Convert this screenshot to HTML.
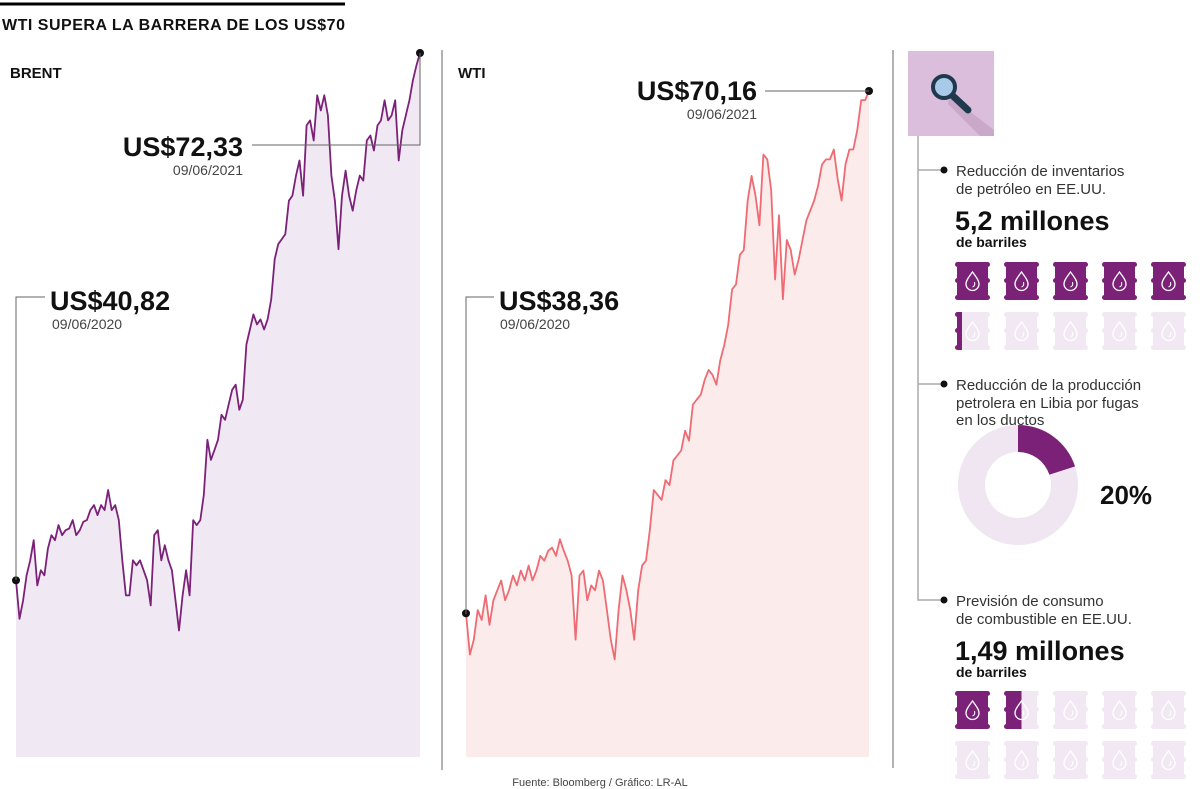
<!DOCTYPE html>
<html><head><meta charset="utf-8"><style>
body{margin:0;background:#fff;font-family:"Liberation Sans",sans-serif}
svg{display:block}
</style></head><body>
<svg id="chart" width="1200" height="789" viewBox="0 0 1200 789" xmlns="http://www.w3.org/2000/svg">
<defs>
<g id="barrel">
<rect x="0" y="0" width="35" height="5" rx="2.5"/>
<rect x="2" y="5" width="31" height="12"/>
<rect x="0" y="16" width="35" height="5" rx="2.5"/>
<rect x="2" y="21" width="31" height="12"/>
<rect x="0" y="33" width="35" height="5" rx="2.5"/>
<path d="M17.5 10 C13 16 11 19 11 22 A6.5 6.5 0 0 0 24 22 C24 19 22 16 17.5 10Z" fill="none" stroke="#fff" stroke-width="1.3"/>
<path d="M19.5 20 q1 4 -2 5" fill="none" stroke="#fff" stroke-width="1"/>
</g>
</defs>
<line x1="0" y1="4" x2="345" y2="4" stroke="#000" stroke-width="3"/>
<text x="2" y="30" font-size="16" font-weight="bold" fill="#111" textLength="343">WTI SUPERA LA BARRERA DE LOS US$70</text>
<text x="10" y="78" font-size="15" font-weight="bold" fill="#111">BRENT</text>
<text x="458" y="78" font-size="15" font-weight="bold" fill="#111">WTI</text>
<line x1="442" y1="50" x2="442" y2="770" stroke="#999" stroke-width="1.5"/>
<line x1="893" y1="50" x2="893" y2="768" stroke="#999" stroke-width="1.5"/>
<g id="brent"></g>
<g id="wti"></g>
<polyline points="16,580 16,297 45,297" fill="none" stroke="#666"/>
<text x="50" y="310" font-size="27" font-weight="bold" fill="#111">US$40,82</text>
<text x="52" y="329" font-size="14" fill="#444">09/06/2020</text>
<polyline points="252,145 420,145 420,53" fill="none" stroke="#666"/>
<text x="243" y="156" font-size="27" font-weight="bold" fill="#111" text-anchor="end">US$72,33</text>
<text x="243" y="175" font-size="14" fill="#444" text-anchor="end">09/06/2021</text>
<polyline points="466,614 466,297 494,297" fill="none" stroke="#666"/>
<text x="499" y="310" font-size="27" font-weight="bold" fill="#111">US$38,36</text>
<text x="500" y="329" font-size="14" fill="#444">09/06/2020</text>
<line x1="765" y1="91" x2="869" y2="91" stroke="#666"/>
<text x="757" y="100" font-size="27" font-weight="bold" fill="#111" text-anchor="end">US$70,16</text>
<text x="757" y="119" font-size="14" fill="#444" text-anchor="end">09/06/2021</text>
<g>
<rect x="908" y="51" width="86" height="85" fill="#dbbedb"/>
<polygon points="950,95 968,110 994,130 994,136 980,136 948,104" fill="#c9a8c9"/>
<line x1="953" y1="96" x2="968" y2="110" stroke="#1f3a4d" stroke-width="7" stroke-linecap="round"/>
<circle cx="944" cy="87" r="11" fill="#a9c9e8" stroke="#1f3a4d" stroke-width="4"/>
</g>
<polyline points="918,136 918,600 944,600" fill="none" stroke="#aaa" stroke-width="1.5"/>
<line x1="918" y1="170" x2="944" y2="170" stroke="#aaa" stroke-width="1.5"/>
<line x1="918" y1="384" x2="944" y2="384" stroke="#aaa" stroke-width="1.5"/>
<circle cx="944" cy="170" r="3.5" fill="#111"/>
<circle cx="944" cy="384" r="3.5" fill="#111"/>
<circle cx="944" cy="600" r="3.5" fill="#111"/>
<g font-size="15" fill="#333">
<text x="956" y="176">Reducción de inventarios</text>
<text x="956" y="194">de petróleo en EE.UU.</text>
<text x="956" y="390">Reducción de la producción</text>
<text x="956" y="408">petrolera en Libia por fugas</text>
<text x="956" y="425">en los ductos</text>
<text x="956" y="606">Previsión de consumo</text>
<text x="956" y="624">de combustible en EE.UU.</text>
</g>
<text x="955" y="230" font-size="27" font-weight="bold" fill="#111">5,2 millones</text>
<text x="956" y="247" font-size="14" font-weight="bold" fill="#111">de barriles</text>
<text x="955" y="660" font-size="27" font-weight="bold" fill="#111">1,49 millones</text>
<text x="956" y="677" font-size="14" font-weight="bold" fill="#111">de barriles</text>
<g id="barrels1"></g>
<g id="barrels2"></g>
<g id="donut"></g>
<text x="1100" y="504" font-size="26" font-weight="bold" fill="#111">20%</text>
<text x="600" y="786" font-size="11" fill="#444" text-anchor="middle">Fuente: Bloomberg / Gráfico: LR-AL</text>
</svg>
<script>
const brentValues=[40.8,38.5,39.6,41.1,42.0,43.2,40.5,41.4,41.1,42.7,43.5,43.2,44.1,43.5,43.8,43.9,44.4,43.5,43.8,44.3,44.4,45.0,45.3,44.7,45.3,45.0,46.2,45.0,45.3,44.4,42.0,39.9,39.9,42.0,41.7,42.0,41.4,40.8,39.3,43.5,43.8,42.0,42.9,42.0,41.4,39.6,37.8,39.9,41.4,39.9,44.4,44.1,44.4,45.9,49.2,48.0,48.6,49.2,50.7,50.4,51.3,52.2,52.5,51.0,51.6,54.9,55.8,56.7,56.1,56.4,55.8,56.4,57.6,60.0,60.9,61.2,61.5,63.5,63.8,65.0,65.9,63.8,68.0,68.3,67.1,69.8,68.9,69.8,68.6,65.0,63.5,60.6,63.8,65.3,63.8,62.9,64.1,65.0,64.7,67.1,67.4,66.5,68.0,68.3,69.5,68.3,68.6,69.5,65.9,67.7,68.6,69.5,70.7,71.6,72.33];
const wtiValues=[38.4,35.9,36.8,38.6,38.0,39.5,37.7,39.2,39.8,40.4,39.2,39.8,40.7,40.1,41.0,40.4,41.3,40.4,41.0,41.9,41.6,42.2,42.4,41.9,42.9,42.2,41.6,40.7,36.8,40.7,41.0,39.2,40.1,39.8,41.0,40.4,38.6,36.8,35.6,38.6,40.7,39.8,38.6,36.8,39.8,41.3,41.6,43.5,45.9,45.6,45.3,46.5,46.2,47.7,48.0,48.3,49.5,48.9,51.1,51.4,51.7,52.6,53.2,52.9,52.3,53.8,54.7,55.9,58.1,58.4,60.2,60.5,63.5,65.0,63.8,62.0,66.3,66.0,64.1,58.7,62.6,57.5,61.1,60.5,59.0,59.9,61.1,62.3,62.9,63.5,64.4,65.7,66.0,66.0,66.6,64.8,63.5,65.7,66.6,66.6,67.8,69.6,69.6,70.16];
const donutShare=[20,80];
const barrels1Fill=[1,1,1,1,1,0.2,0,0,0,0];
const barrels2Fill=[1,0.5,0,0,0,0,0,0,0,0];
const NS='http://www.w3.org/2000/svg';
function mk(t,a,p){const e=document.createElementNS(NS,t);for(const k in a)e.setAttribute(k,a[k]);p.appendChild(e);return e;}
function drawSeries(gid,vals,x0,x1,v0,y0,v1,y1,bottom,fill,stroke){
  const g=document.getElementById(gid);
  const sx=i=>x0+(x1-x0)*i/(vals.length-1);
  const sy=v=>y0+(v-v0)*(y1-y0)/(v1-v0);
  const pts=vals.map((v,i)=>sx(i).toFixed(1)+','+sy(v).toFixed(1));
  const area=mk('polygon',{points:x0+','+bottom+' '+pts.join(' ')+' '+x1+','+bottom,fill:fill},g);
  
  
  const line=mk('polyline',{points:pts.join(' '),fill:'none',stroke:stroke,'stroke-width':1.8,'stroke-linejoin':'round'},g);
  
  
  const s=mk('circle',{cx:x0,cy:sy(vals[0]),r:4,fill:'#111'},g);
  
  
  const e=mk('circle',{cx:x1,cy:sy(vals[vals.length-1]),r:4,fill:'#111'},g);
  
  
}
drawSeries('brent',brentValues,16,420,40.82,580,72.33,53,757,'#f0e8f3','#7b2278');
drawSeries('wti',wtiValues,466,869,38.36,614,70.16,91,757,'#fcebeb','#ee6b73');
function drawBarrels(gid,fills,x0,y0){
  const g=document.getElementById(gid);
  fills.forEach((f,i)=>{
    const x=x0+(i%5)*49,y=y0+Math.floor(i/5)*50;
    const bg=mk('use',{href:'#barrel',x:x,y:y,fill:'#f1e8f3'},g);
    
    
    if(f>0){
      const cg=mk('g',{transform:'translate('+x+','+y+')'},g);
      const cp=mk('clipPath',{id:gid+'c'+i},cg);
      mk('rect',{x:0,y:0,width:35*f,height:40},cp);
      const u=mk('use',{href:'#barrel',fill:'#7b2278','clip-path':'url(#'+gid+'c'+i+')'},cg);
      
      
    }
  });
}
drawBarrels('barrels1',barrels1Fill,955,262);
drawBarrels('barrels2',barrels2Fill,955,691);
(function(){
  const g=document.getElementById('donut');
  const cx=1018,cy=485,R=60,r=33,tot=donutShare.reduce((a,b)=>a+b,0);
  const cols=['#7b2278','#efe6f1'];let a=-Math.PI/2;
  donutShare.forEach((v,i)=>{
    const b=a+2*Math.PI*v/tot,lg=(b-a)>Math.PI?1:0;
    const p=[cx+R*Math.cos(a),cy+R*Math.sin(a),cx+R*Math.cos(b),cy+R*Math.sin(b),cx+r*Math.cos(b),cy+r*Math.sin(b),cx+r*Math.cos(a),cy+r*Math.sin(a)];
    const d='M'+p[0]+' '+p[1]+' A'+R+' '+R+' 0 '+lg+' 1 '+p[2]+' '+p[3]+' L'+p[4]+' '+p[5]+' A'+r+' '+r+' 0 '+lg+' 0 '+p[6]+' '+p[7]+'Z';
    const s=mk('path',{d:d,fill:cols[i]},g);
    
    
    a=b;
  });
})();
</script>
</body></html>
